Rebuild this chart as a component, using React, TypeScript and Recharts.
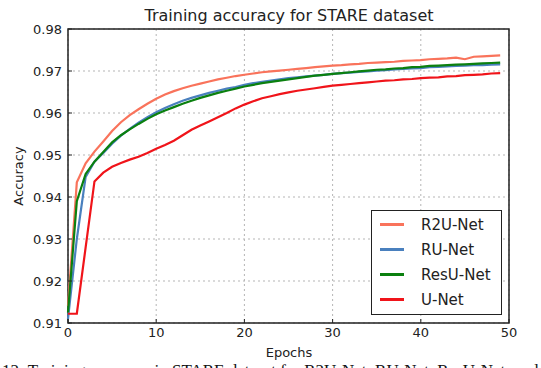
import React from 'react';
import {
  LineChart,
  Line,
  XAxis,
  YAxis,
  CartesianGrid,
  ReferenceArea,
} from 'recharts';

const epochs = Array.from({ length: 50 }, (_, i) => i);

const r2uNet = [
  0.9140, 0.9435, 0.9480, 0.9508, 0.9532, 0.9557, 0.9578, 0.9595, 0.9609, 0.9622,
  0.9634, 0.9644, 0.9652, 0.9659, 0.9665, 0.9670, 0.9675, 0.9680, 0.9684, 0.9688,
  0.9691, 0.9694, 0.9697, 0.9699, 0.9701, 0.9703, 0.9705, 0.9707, 0.9709, 0.9711,
  0.9713, 0.9714, 0.9716, 0.9717, 0.9719, 0.9720, 0.9721, 0.9722, 0.9724, 0.9725,
  0.9726, 0.9728, 0.9729, 0.9730, 0.9732, 0.9728, 0.9734, 0.9735, 0.9736, 0.9737,
];

const ruNet = [
  0.9110, 0.9300, 0.9448, 0.9484, 0.9505, 0.9527, 0.9546, 0.9562, 0.9577, 0.9590,
  0.9602, 0.9612, 0.9621, 0.9629, 0.9636, 0.9642, 0.9648, 0.9653, 0.9658, 0.9662,
  0.9667, 0.9671, 0.9674, 0.9677, 0.9680, 0.9683, 0.9685, 0.9687, 0.9689, 0.9691,
  0.9693, 0.9695, 0.9696, 0.9698, 0.9699, 0.9701, 0.9702, 0.9704, 0.9705, 0.9706,
  0.9707, 0.9709, 0.9710, 0.9711, 0.9712, 0.9713, 0.9714, 0.9714, 0.9715, 0.9716,
];

const resUNet = [
  0.9125, 0.9390, 0.9455, 0.9484, 0.9507, 0.9530, 0.9547, 0.9561, 0.9574, 0.9586,
  0.9597, 0.9606, 0.9614, 0.9622, 0.9629, 0.9636, 0.9642, 0.9648, 0.9653, 0.9658,
  0.9663, 0.9667, 0.9671, 0.9674, 0.9677, 0.9680, 0.9683, 0.9686, 0.9689, 0.9691,
  0.9693, 0.9695, 0.9697, 0.9699, 0.9701, 0.9703, 0.9704, 0.9706, 0.9707, 0.9709,
  0.9710, 0.9712, 0.9713, 0.9714, 0.9715, 0.9716, 0.9717, 0.9718, 0.9719, 0.9720,
];

const uNet = [
  0.9122, 0.9122, 0.9280, 0.9437, 0.9458, 0.9472, 0.9481, 0.9489, 0.9496, 0.9505,
  0.9515, 0.9524, 0.9534, 0.9547, 0.9560, 0.9570, 0.9580, 0.9590, 0.9600, 0.9611,
  0.9620, 0.9628, 0.9635, 0.9640, 0.9645, 0.9649, 0.9653, 0.9656, 0.9659, 0.9662,
  0.9665, 0.9667, 0.9669, 0.9671, 0.9673, 0.9675, 0.9677, 0.9678, 0.9680, 0.9681,
  0.9683, 0.9684, 0.9685, 0.9687, 0.9688, 0.9690, 0.9691, 0.9692, 0.9694, 0.9695,
];

const xTicks = [0, 10, 20, 30, 40, 50];
const yTicks = [0.91, 0.92, 0.93, 0.94, 0.95, 0.96, 0.97, 0.98];

const series = [
  { key: 'R2U-Net', values: r2uNet, color: '#F9735B' },
  { key: 'RU-Net', values: ruNet, color: '#4A80BE' },
  { key: 'ResU-Net', values: resUNet, color: '#0B800F' },
  { key: 'U-Net', values: uNet, color: '#F0141A' },
];

const data = epochs.map((e, i) => {
  const row: any = { epoch: e };
  series.forEach((s) => (row[s.key] = s.values[i]));
  return row;
});

const FONT = '"DejaVu Sans", sans-serif';
const tickStyle = { fill: '#222', fontSize: 13, fontFamily: FONT };

// legend drawn as a plain box over the plot (Recharts' Legend reserves space)
const LegendBox = () => (
  <div
    style={{
      position: 'absolute',
      left: 371,
      top: 210,
      width: 131,
      height: 105,
      border: '1.5px solid #222',
      background: '#fff',
      boxSizing: 'border-box',
      paddingTop: 1,
      fontSize: 15,
      color: '#222',
    }}
  >
    {series.map((s) => (
      <div key={s.key} style={{ display: 'flex', alignItems: 'center', height: 25 }}>
        <div style={{ width: 24, height: 3, background: s.color, marginLeft: 8, marginRight: 17 }} />
        <span>{s.key}</span>
      </div>
    ))}
  </div>
);

export default function App() {
  return (
    <div
      style={{
        position: 'absolute',
        left: 0,
        top: 0,
        width: 541,
        height: 368,
        overflow: 'hidden',
        background: '#fff',
        fontFamily: FONT,
      }}
    >
      <div
        style={{
          position: 'absolute',
          left: 0,
          width: 578,
          top: 6,
          textAlign: 'center',
          fontSize: 16,
          color: '#222',
        }}
      >
        Training accuracy for STARE dataset
      </div>
      <div
        style={{
          position: 'absolute',
          left: 0,
          width: 578,
          top: 345,
          textAlign: 'center',
          fontSize: 13,
          color: '#222',
        }}
      >
        Epochs
      </div>
      <div
        style={{
          position: 'absolute',
          left: 18,
          top: 176,
          transform: 'translate(-50%, -50%) rotate(-90deg)',
          fontSize: 13,
          color: '#222',
          whiteSpace: 'nowrap',
        }}
      >
        Accuracy
      </div>
      <div
        style={{
          position: 'absolute',
          left: 2,
          top: 361,
          fontFamily: '"Liberation Serif", serif',
          fontSize: 17,
          color: '#111',
          whiteSpace: 'nowrap',
        }}
      >
        12: Training accuracy in STARE dataset for R2U-Net, RU-Net, ResU-Net, and U-Net.
      </div>
      <LineChart
        width={541}
        height={368}
        data={data}
        margin={{ top: 29, right: 32, left: 0, bottom: 20 }}
        style={{ position: 'absolute', left: 0, top: 0 }}
      >
        <CartesianGrid stroke="#b5b5b5" strokeDasharray="2 3" />
        <XAxis
          dataKey="epoch"
          type="number"
          domain={[0, 50]}
          ticks={xTicks}
          height={25}
          tickSize={-4}
          tickMargin={9}
          axisLine={false}
          tickLine={{ stroke: '#222' }}
          tick={tickStyle}
        />
        <XAxis
          xAxisId="top"
          orientation="top"
          dataKey="epoch"
          type="number"
          domain={[0, 50]}
          ticks={xTicks}
          height={0}
          tickSize={-4}
          axisLine={false}
          tickLine={{ stroke: '#222' }}
          tick={{ fill: 'none' }}
        />
        <YAxis
          type="number"
          domain={[0.91, 0.98]}
          ticks={yTicks}
          width={68}
          tickSize={-4}
          tickMargin={10}
          axisLine={false}
          allowDataOverflow
          tickLine={{ stroke: '#222' }}
          tickFormatter={(v: number) => v.toFixed(2)}
          tick={tickStyle}
        />
        <YAxis
          yAxisId="right"
          orientation="right"
          type="number"
          domain={[0.91, 0.98]}
          ticks={yTicks}
          width={0}
          tickSize={-4}
          axisLine={false}
          allowDataOverflow
          tickLine={{ stroke: '#222' }}
          tick={{ fill: 'none' }}
        />
        {series.map((s) => (
          <Line
            key={s.key}
            type="linear"
            dataKey={s.key}
            stroke={s.color}
            strokeWidth={2.2}
            dot={false}
            isAnimationActive={false}
          />
        ))}
        <ReferenceArea
          x1={0}
          x2={50}
          y1={0.91}
          y2={0.98}
          fill="none"
          stroke="#222"
          strokeWidth={1.5}
        />
      </LineChart>
      <LegendBox />
    </div>
  );
}
